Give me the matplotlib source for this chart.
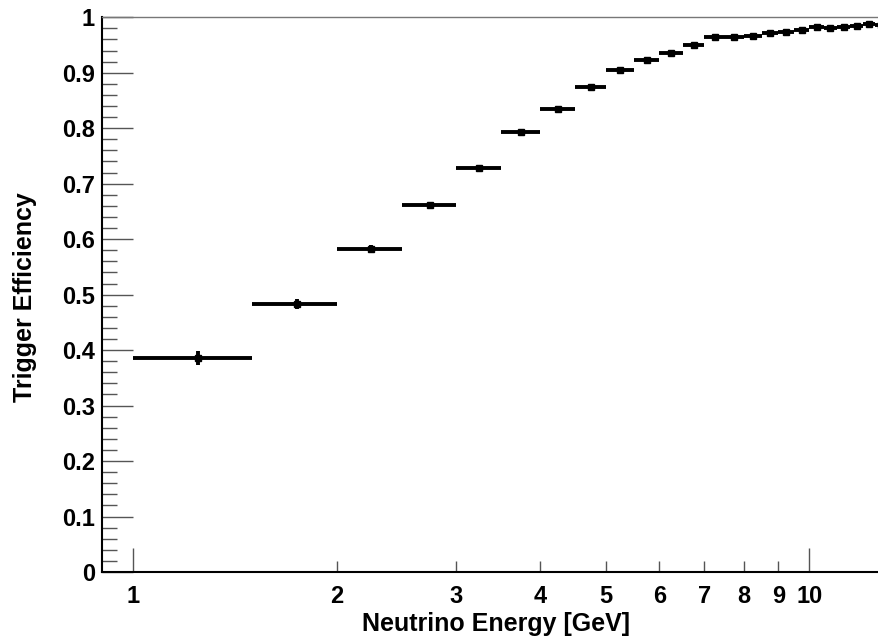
import numpy as np
import matplotlib.pyplot as plt
from matplotlib.ticker import FixedLocator, FixedFormatter

# bin edges of the energy histogram (GeV)
edges = [1.0, 1.5, 2.0, 2.5, 3.0, 3.5, 4.0, 4.5, 5.0, 5.5, 6.0, 6.5, 7.0,
         7.5, 8.0, 8.5, 9.0, 9.5, 10.0, 10.5, 11.0, 11.5, 12.0, 12.5, 13.0]
# trigger efficiency per bin
eff = [0.386, 0.483, 0.583, 0.662, 0.728, 0.794, 0.835, 0.874, 0.904,
       0.923, 0.936, 0.950, 0.964, 0.965, 0.967, 0.971, 0.974, 0.977,
       0.983, 0.980, 0.983, 0.984, 0.987, 0.986]
eff_err = [0.012, 0.009, 0.007, 0.005, 0.004, 0.004, 0.004, 0.003, 0.003,
           0.003, 0.003, 0.003, 0.002, 0.002, 0.002, 0.002, 0.002, 0.002,
           0.002, 0.002, 0.002, 0.002, 0.002, 0.002]

major_ticks = [1, 10]
minor_ticks = [2, 3, 4, 5, 6, 7, 8, 9]

plt.rcParams['font.family'] = ['Liberation Sans', 'DejaVu Sans']
plt.rcParams['font.weight'] = 'bold'

edges = np.array(edges)
centers = 0.5 * (edges[:-1] + edges[1:])
xlo = centers - edges[:-1]
xhi = edges[1:] - centers

fig = plt.figure(figsize=(8.79, 6.38), dpi=100)
ax = fig.add_axes([0.116, 0.1034, 0.884, 0.8696])

ax.errorbar(centers, eff, xerr=[xlo, xhi], yerr=eff_err, fmt='s',
            color='black', ms=5, elinewidth=2.8, capsize=0)

ax.set_xscale('log')
ax.set_xlim(0.9, 12.68)
ax.set_ylim(0, 1)

# x axis: 1 and 10 long ticks, 2..9 short ticks, all labelled
ax.xaxis.set_major_locator(FixedLocator(major_ticks))
ax.xaxis.set_major_formatter(FixedFormatter([str(t) for t in major_ticks]))
ax.xaxis.set_minor_locator(FixedLocator(minor_ticks))
ax.xaxis.set_minor_formatter(FixedFormatter([str(t) for t in minor_ticks]))
ax.tick_params(axis='x', which='major', direction='in', length=17, width=1,
               color='#555555', labelsize=17, pad=9)
ax.tick_params(axis='x', which='minor', direction='in', length=8, width=1,
               color='#555555', labelsize=17, pad=9)

ax.set_yticks(np.arange(0, 1.01, 0.1))
ax.set_yticklabels(['0', '0.1', '0.2', '0.3', '0.4', '0.5', '0.6', '0.7',
                    '0.8', '0.9', '1'])
ax.set_yticks(np.arange(0, 1.001, 0.02), minor=True)
ax.tick_params(axis='y', which='major', direction='in', length=22, width=1,
               color='#555555', labelsize=17, pad=5)
ax.tick_params(axis='y', which='minor', direction='in', length=11, width=1,
               color='#555555')

ax.spines['right'].set_visible(False)
ax.spines['top'].set_color('#777777')
ax.spines['top'].set_linewidth(1)
ax.spines['left'].set_linewidth(1.5)
ax.spines['bottom'].set_linewidth(1.5)

fig.text(630 / 879, 1 - 624 / 638, 'Neutrino Energy [GeV]', ha='right',
         va='center', fontsize=18, fontweight='bold')
fig.text(25 / 879, 1 - 297 / 638, 'Trigger Efficiency', ha='center',
         va='center', rotation=90, fontsize=18, fontweight='bold')

fig.savefig('out.png', dpi=100)
